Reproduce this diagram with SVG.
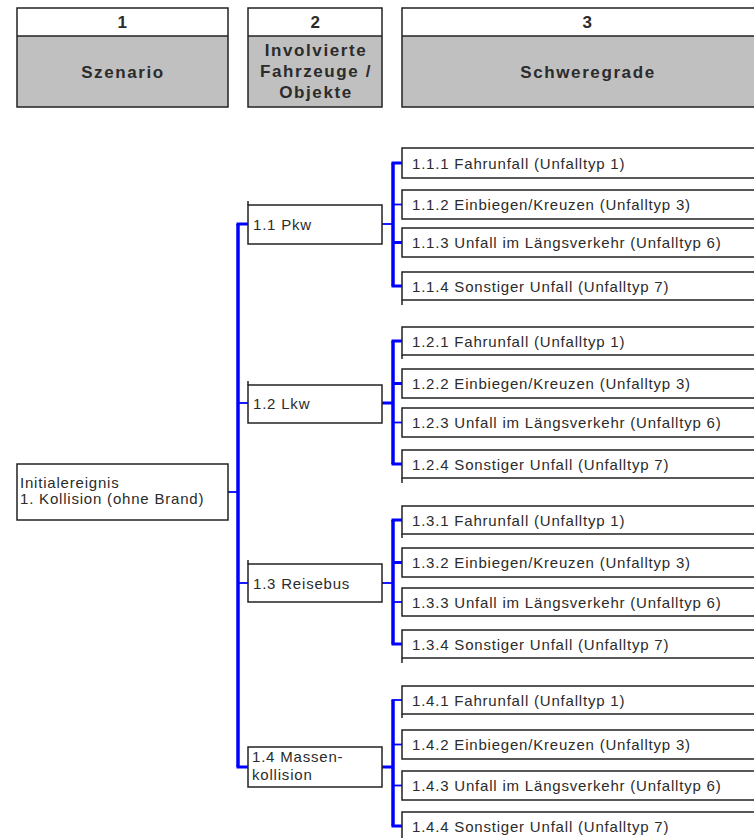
<svg xmlns="http://www.w3.org/2000/svg" width="754" height="838" viewBox="0 0 754 838">
<style>
.bg{fill:#ffffff}
.box{fill:#ffffff;stroke:#222;stroke-width:1.5}
.hdr{fill:#c0c0c0}
.ln{stroke:#222;stroke-width:1.5;fill:none}
.h{font-family:"Liberation Sans",Arial,sans-serif;font-weight:bold;font-size:17px;letter-spacing:1.6px;fill:#2b2b2b;text-anchor:middle}
.t{font-family:"Liberation Sans",Arial,sans-serif;font-size:15px;letter-spacing:0.8px;fill:#2b2b2b}
.bus{stroke:#0000ff;stroke-width:3.5;fill:none}
.tk{stroke:#0000ff;stroke-width:3;fill:none}
.tn{stroke:#0000ff;stroke-width:1.8;fill:none}
</style>
<rect class="bg" x="0" y="0" width="754" height="838"/>

<g id="header1">
<rect class="hdr" x="17" y="36" width="211" height="71"/>
<rect class="box" x="17" y="8" width="211" height="99" style="fill:none"/>
<line class="ln" x1="17" y1="36" x2="228" y2="36"/>
<text class="h" x="123" y="28">1</text>
<text class="h" x="123" y="78">Szenario</text>
</g>
<g id="header2">
<rect class="hdr" x="248" y="36" width="134" height="71"/>
<rect class="box" x="248" y="8" width="134" height="99" style="fill:none"/>
<line class="ln" x1="248" y1="36" x2="382" y2="36"/>
<text class="h" x="316" y="28">2</text>
<text class="h" x="316" y="56">Involvierte</text>
<text class="h" x="316" y="77">Fahrzeuge /</text>
<text class="h" x="316" y="98">Objekte</text>
</g>
<g id="header3">
<rect class="hdr" x="402" y="36" width="380" height="71"/>
<rect class="box" x="402" y="8" width="380" height="99" style="fill:none"/>
<line class="ln" x1="402" y1="36" x2="782" y2="36"/>
<text class="h" x="588" y="28">3</text>
<text class="h" x="588" y="78">Schweregrade</text>
</g>

<g id="connectors">
<line class="tn" x1="228" y1="492" x2="238" y2="492"/>
<line class="bus" x1="238" y1="224" x2="238" y2="767"/>
<line class="tk" x1="236.5" y1="224" x2="248" y2="224"/>
<line class="tn" x1="238" y1="403" x2="248" y2="403"/>
<line class="tn" x1="238" y1="583" x2="248" y2="583"/>
<line class="tk" x1="236.5" y1="767" x2="248" y2="767"/>
<line class="tn" x1="382" y1="224" x2="393" y2="224"/>
<line class="bus" x1="393" y1="163" x2="393" y2="286"/>
<line class="tk" x1="391.5" y1="163" x2="402" y2="163"/>
<line class="tn" x1="393" y1="204.5" x2="402" y2="204.5"/>
<line class="tk" x1="393" y1="242.5" x2="402" y2="242.5"/>
<line class="tk" x1="391.5" y1="286" x2="402" y2="286"/>
<line class="tk" x1="382" y1="403" x2="393" y2="403"/>
<line class="bus" x1="393" y1="341" x2="393" y2="464"/>
<line class="tk" x1="391.5" y1="341" x2="402" y2="341"/>
<line class="tk" x1="393" y1="383.5" x2="402" y2="383.5"/>
<line class="tn" x1="393" y1="422.5" x2="402" y2="422.5"/>
<line class="tk" x1="391.5" y1="464" x2="402" y2="464"/>
<line class="tn" x1="382" y1="583" x2="393" y2="583"/>
<line class="bus" x1="393" y1="520" x2="393" y2="644"/>
<line class="tk" x1="391.5" y1="520" x2="402" y2="520"/>
<line class="tk" x1="393" y1="562.5" x2="402" y2="562.5"/>
<line class="tn" x1="393" y1="602" x2="402" y2="602"/>
<line class="tk" x1="391.5" y1="644" x2="402" y2="644"/>
<line class="tk" x1="382" y1="767" x2="393" y2="767"/>
<line class="bus" x1="393" y1="700" x2="393" y2="826"/>
<line class="tn" x1="391.5" y1="700" x2="402" y2="700"/>
<line class="tn" x1="393" y1="744.5" x2="402" y2="744.5"/>
<line class="tn" x1="393" y1="785.5" x2="402" y2="785.5"/>
<line class="tk" x1="391.5" y1="826" x2="402" y2="826"/>
</g>

<g id="n1">
<rect class="box" x="17" y="464" width="211" height="56"/>
<text class="t" x="20" y="488">Initialereignis</text>
<text class="t" x="20" y="504">1. Kollision (ohne Brand)</text>
</g>

<g id="n1_1"><rect class="box" x="248" y="205" width="134" height="39"/><line class="ln" x1="248" y1="201" x2="248" y2="205"/><text class="t" x="253" y="229.5">1.1 Pkw</text></g>
<g id="n1_2"><rect class="box" x="248" y="385" width="134" height="38"/><line class="ln" x1="248" y1="381" x2="248" y2="385"/><text class="t" x="253" y="408.5">1.2 Lkw</text></g>
<g id="n1_3"><rect class="box" x="248" y="564" width="134" height="38"/><line class="ln" x1="248" y1="560" x2="248" y2="564"/><text class="t" x="253" y="588.5">1.3 Reisebus</text></g>
<g id="n1_4"><rect class="box" x="248" y="747" width="134" height="40"/><text class="t" x="252" y="762">1.4 Massen-</text><text class="t" x="252" y="780">kollision</text></g>

<g id="n1_1_1"><rect class="box" x="402" y="148" width="380" height="30"/><text class="t" x="412" y="168.5">1.1.1 Fahrunfall (Unfalltyp 1)</text></g>
<g id="n1_1_2"><rect class="box" x="402" y="190" width="380" height="29"/><text class="t" x="412" y="210">1.1.2 Einbiegen/Kreuzen (Unfalltyp 3)</text></g>
<g id="n1_1_3"><rect class="box" x="402" y="228" width="380" height="29"/><text class="t" x="412" y="248">1.1.3 Unfall im Längsverkehr (Unfalltyp 6)</text></g>
<g id="n1_1_4"><rect class="box" x="402" y="272" width="380" height="28"/><line class="ln" x1="402" y1="300" x2="402" y2="305"/><text class="t" x="412" y="291.5">1.1.4 Sonstiger Unfall (Unfalltyp 7)</text></g>

<g id="n1_2_1"><rect class="box" x="402" y="327" width="380" height="28"/><line class="ln" x1="402" y1="355" x2="402" y2="359"/><text class="t" x="412" y="346.5">1.2.1 Fahrunfall (Unfalltyp 1)</text></g>
<g id="n1_2_2"><rect class="box" x="402" y="369" width="380" height="29"/><text class="t" x="412" y="389">1.2.2 Einbiegen/Kreuzen (Unfalltyp 3)</text></g>
<g id="n1_2_3"><rect class="box" x="402" y="408" width="380" height="29"/><text class="t" x="412" y="428">1.2.3 Unfall im Längsverkehr (Unfalltyp 6)</text></g>
<g id="n1_2_4"><rect class="box" x="402" y="450" width="380" height="28"/><line class="ln" x1="402" y1="478" x2="402" y2="483"/><text class="t" x="412" y="469.5">1.2.4 Sonstiger Unfall (Unfalltyp 7)</text></g>

<g id="n1_3_1"><rect class="box" x="402" y="506" width="380" height="28"/><line class="ln" x1="402" y1="534" x2="402" y2="538"/><text class="t" x="412" y="525.5">1.3.1 Fahrunfall (Unfalltyp 1)</text></g>
<g id="n1_3_2"><rect class="box" x="402" y="548" width="380" height="29"/><text class="t" x="412" y="568">1.3.2 Einbiegen/Kreuzen (Unfalltyp 3)</text></g>
<g id="n1_3_3"><rect class="box" x="402" y="588" width="380" height="28"/><text class="t" x="412" y="607.5">1.3.3 Unfall im Längsverkehr (Unfalltyp 6)</text></g>
<g id="n1_3_4"><rect class="box" x="402" y="630" width="380" height="28"/><line class="ln" x1="402" y1="658" x2="402" y2="663"/><text class="t" x="412" y="649.5">1.3.4 Sonstiger Unfall (Unfalltyp 7)</text></g>

<g id="n1_4_1"><rect class="box" x="402" y="686" width="380" height="28"/><line class="ln" x1="402" y1="714" x2="402" y2="718"/><text class="t" x="412" y="705.5">1.4.1 Fahrunfall (Unfalltyp 1)</text></g>
<g id="n1_4_2"><rect class="box" x="402" y="730" width="380" height="29"/><text class="t" x="412" y="749.5">1.4.2 Einbiegen/Kreuzen (Unfalltyp 3)</text></g>
<g id="n1_4_3"><rect class="box" x="402" y="771" width="380" height="29"/><text class="t" x="412" y="791">1.4.3 Unfall im Längsverkehr (Unfalltyp 6)</text></g>
<g id="n1_4_4"><rect class="box" x="402" y="812" width="380" height="30"/><text class="t" x="412" y="831.5">1.4.4 Sonstiger Unfall (Unfalltyp 7)</text></g>
</svg>
